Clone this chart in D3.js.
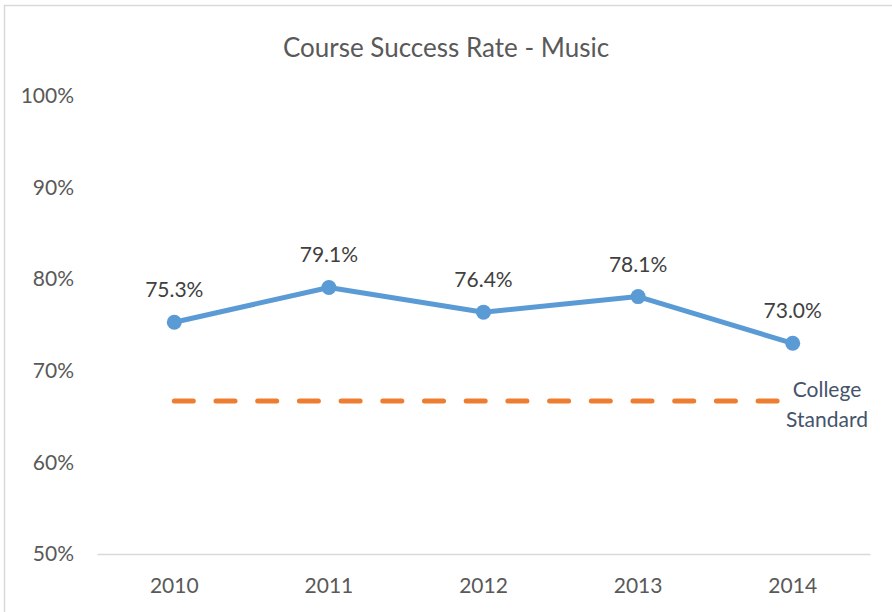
<!DOCTYPE html>
<html>
<head>
<meta charset="utf-8">
<script src="https://cdn.jsdelivr.net/npm/d3@7"></script>
<style>
  html, body { margin: 0; padding: 0; background: #fff; }
  svg { display: block; }
  text { font-family: Lato, "Open Sans", sans-serif; }
</style>
</head>
<body>
<svg id="chart" width="892" height="612"></svg>
<script>
const title = "Course Success Rate - Music";
const years = ["2010", "2011", "2012", "2013", "2014"];
const successRate = [75.3, 79.1, 76.4, 78.1, 73.0];
const collegeStandard = [66.7, 66.7, 66.7, 66.7, 66.7];
const standardLabel = ["College", "Standard"];
const yTicks = [50, 60, 70, 80, 90, 100];

const svg = d3.select("#chart");
const W = 892, H = 612;

// outer border
svg.append("rect")
  .attr("x", 4.5).attr("y", 5.5)
  .attr("width", W + 10).attr("height", H + 10)
  .attr("fill", "#fff").attr("stroke", "#d9d9d9").attr("stroke-width", 1.5);

const plot = { left: 97, right: 870, top: 96, bottom: 554 };

const x = d3.scaleBand().domain(years).range([plot.left, plot.right]);
const xc = d => x(d) + x.bandwidth() / 2;
const y = d3.scaleLinear().domain([50, 100]).range([plot.bottom, plot.top]);

// title
svg.append("text")
  .attr("x", 446).attr("y", 57)
  .attr("text-anchor", "middle")
  .attr("font-size", 26)
  .attr("fill", "#595959")
  .text(title);

// y axis labels (no line)
const yAxis = d3.axisLeft(y).tickValues(yTicks).tickFormat(d => d + "%").tickSize(0).tickPadding(0);
const yg = svg.append("g").attr("transform", `translate(${74},0)`).call(yAxis);
yg.select(".domain").remove();
yg.selectAll("text").attr("font-size", 21).attr("fill", "#595959").attr("font-family", "Lato, sans-serif");

// x axis baseline and labels
const xAxis = d3.axisBottom(x).tickSize(0).tickPadding(0);
const xg = svg.append("g").attr("transform", `translate(0,${plot.bottom})`).call(xAxis);
xg.select(".domain").attr("stroke", "#d9d9d9").attr("stroke-width", 1.5);
xg.selectAll("text").attr("font-size", 21).attr("fill", "#595959").attr("font-family", "Lato, sans-serif").attr("dy", "1.85em");

// college standard dashed line
const stdLine = d3.line().x((d, i) => xc(years[i])).y(d => y(d));
svg.append("path")
  .datum(collegeStandard)
  .attr("d", stdLine)
  .attr("fill", "none")
  .attr("stroke", "#ED7D31")
  .attr("stroke-width", 5)
  .attr("stroke-linecap", "round")
  .attr("stroke-dasharray", "19,22.7");

svg.append("text")
  .attr("x", 827).attr("y", y(collegeStandard[4]) - 4)
  .attr("text-anchor", "middle")
  .attr("font-size", 21)
  .attr("fill", "#44546A")
  .selectAll("tspan").data(standardLabel).join("tspan")
  .attr("x", 827).attr("dy", (d, i) => i === 0 ? 0 : 30)
  .text(d => d);

// success rate line
const rateLine = d3.line().x((d, i) => xc(years[i])).y(d => y(d));
svg.append("path")
  .datum(successRate)
  .attr("d", rateLine)
  .attr("fill", "none")
  .attr("stroke", "#5B9BD5")
  .attr("stroke-width", 5)
  .attr("stroke-linejoin", "round");

svg.selectAll("circle.pt").data(successRate).join("circle")
  .attr("class", "pt")
  .attr("cx", (d, i) => xc(years[i]))
  .attr("cy", d => y(d))
  .attr("r", 7.5)
  .attr("fill", "#5B9BD5");

svg.selectAll("text.lbl").data(successRate).join("text")
  .attr("class", "lbl")
  .attr("x", (d, i) => xc(years[i]))
  .attr("y", d => y(d) - 25)
  .attr("text-anchor", "middle")
  .attr("font-size", 21)
  .attr("fill", "#404040")
  .text(d => d.toFixed(1) + "%");
</script>
</body>
</html>
